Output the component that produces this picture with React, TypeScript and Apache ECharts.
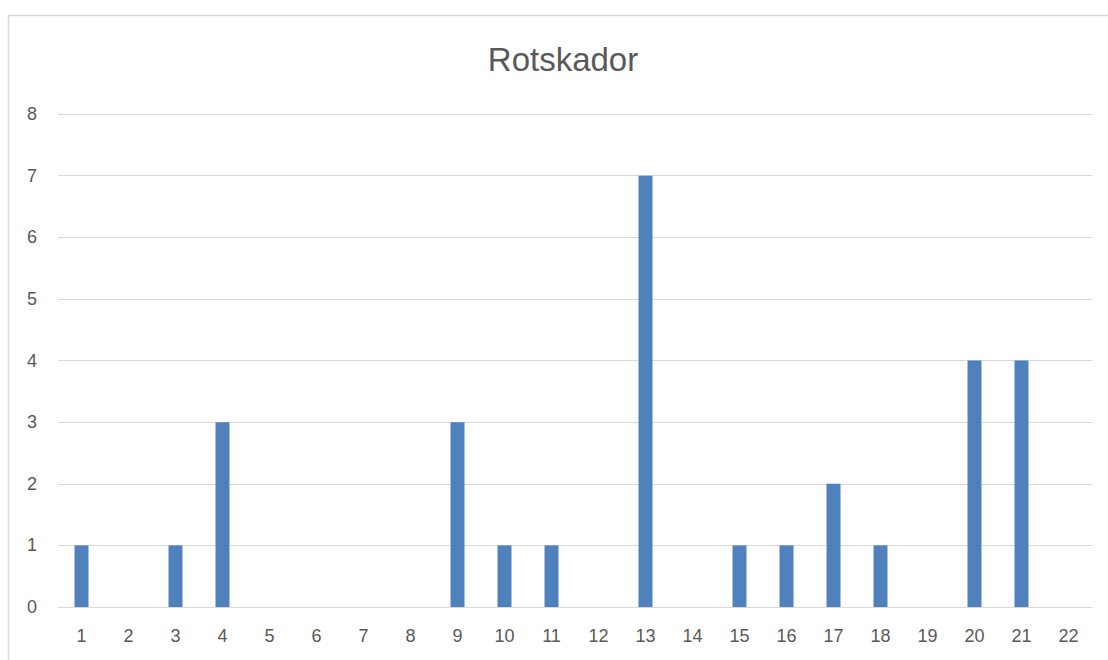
import React, { useEffect, useRef } from "react";
import * as echarts from "echarts";

const categories = ["1","2","3","4","5","6","7","8","9","10","11","12","13","14","15","16","17","18","19","20","21","22"];
const values = [1,0,1,3,0,0,0,0,3,1,1,0,7,0,1,1,2,1,0,4,4,0];
const yTicks = { min: 0, max: 8, interval: 1 };
const titleText = "Rotskador";

export default function App() {
  const ref = useRef<HTMLDivElement>(null);
  useEffect(() => {
    if (!ref.current) return;
    const chart = echarts.init(ref.current, null, { renderer: "svg" });
    const font = "'Liberation Sans', Arial, sans-serif";
    chart.setOption({
      animation: false,
      backgroundColor: "#ffffff",
      title: {
        text: titleText,
        left: 558,
        textAlign: "center",
        top: 38,
        textStyle: { fontFamily: font, fontSize: 33, fontWeight: "normal", color: "#595959" },
      },
      grid: { left: 58, right: 16, top: 114, bottom: 53, containLabel: false },
      xAxis: {
        type: "category",
        data: categories,
        axisLine: { show: true, lineStyle: { color: "#d9d9d9", width: 1 } },
        axisTick: { show: false },
        axisLabel: { fontFamily: font, fontSize: 18, color: "#595959", margin: 20 },
      },
      yAxis: {
        type: "value",
        min: yTicks.min,
        max: yTicks.max,
        interval: yTicks.interval,
        axisLine: { show: false },
        axisTick: { show: false },
        splitLine: { lineStyle: { color: "#d9d9d9", width: 1 } },
        axisLabel: { fontFamily: font, fontSize: 18, color: "#595959", margin: 21 },
      },
      series: [
        {
          type: "bar",
          data: values,
          barWidth: 14,
          itemStyle: { color: "#4f81bd" },
        },
      ],
      graphic: [
        {
          type: "rect",
          shape: { x: 8.5, y: 15.5, width: 1200, height: 800 },
          style: { fill: "none", stroke: "#d9d9d9", lineWidth: 1.5 },
          silent: true,
        },
      ],
    });
    return () => chart.dispose();
  }, []);
  return <div ref={ref} style={{ position: "absolute", left: 0, top: 0, width: 1108, height: 660 }} />;
}
